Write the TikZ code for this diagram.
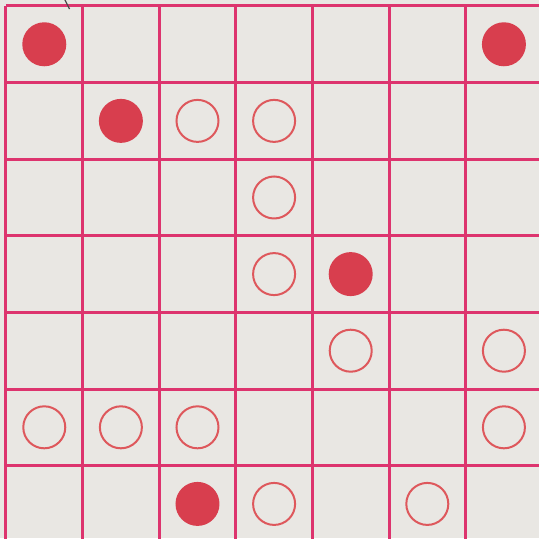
\documentclass[tikz,border=0pt]{standalone}
\usepackage{xcolor}
\usepackage{tikz}
\usetikzlibrary{positioning}

\definecolor{paper}{RGB}{233,231,227}
\definecolor{gridpink}{RGB}{221,52,110}
\definecolor{stonered}{RGB}{216,62,78}
\definecolor{ringred}{RGB}{222,88,92}

\begin{document}
\begin{tikzpicture}[x=76.6pt, y=-76.6pt,
  filledstone/.style={circle, fill=stonered, minimum size=44pt, inner sep=0pt},
  openstone/.style={circle, draw=ringred, line width=2pt, minimum size=42pt, inner sep=0pt}]
\useasboundingbox (-0.078,-0.078) rectangle (6.958,6.945);
\clip (-0.078,-0.078) rectangle (6.958,6.945);
\fill[paper] (-0.078,-0.078) rectangle (6.958,6.945);
% board
\draw[gridpink, line width=3pt, step=76.6pt] (0,0) grid (7,7);
\draw[black!70, line width=1.2pt] (0.77,-0.08) -- (0.83,0.04);
% stones, named by row and column
\node[filledstone] (r0c0) at (0.5,0.5) {};
\node[filledstone] (r0c6) at (6.5,0.5) {};
\node[filledstone] (r1c1) at (1.5,1.5) {};
\node[openstone] (r1c2) at (2.5,1.5) {};
\node[openstone] (r1c3) at (3.5,1.5) {};
\node[openstone] (r2c3) at (3.5,2.5) {};
\node[openstone] (r3c3) at (3.5,3.5) {};
\node[filledstone] (r3c4) at (4.5,3.5) {};
\node[openstone] (r4c4) at (4.5,4.5) {};
\node[openstone] (r4c6) at (6.5,4.5) {};
\node[openstone] (r5c0) at (0.5,5.5) {};
\node[openstone] (r5c1) at (1.5,5.5) {};
\node[openstone] (r5c2) at (2.5,5.5) {};
\node[openstone] (r5c6) at (6.5,5.5) {};
\node[filledstone] (r6c2) at (2.5,6.5) {};
\node[openstone] (r6c3) at (3.5,6.5) {};
\node[openstone] (r6c5) at (5.5,6.5) {};
\end{tikzpicture}
\end{document}
